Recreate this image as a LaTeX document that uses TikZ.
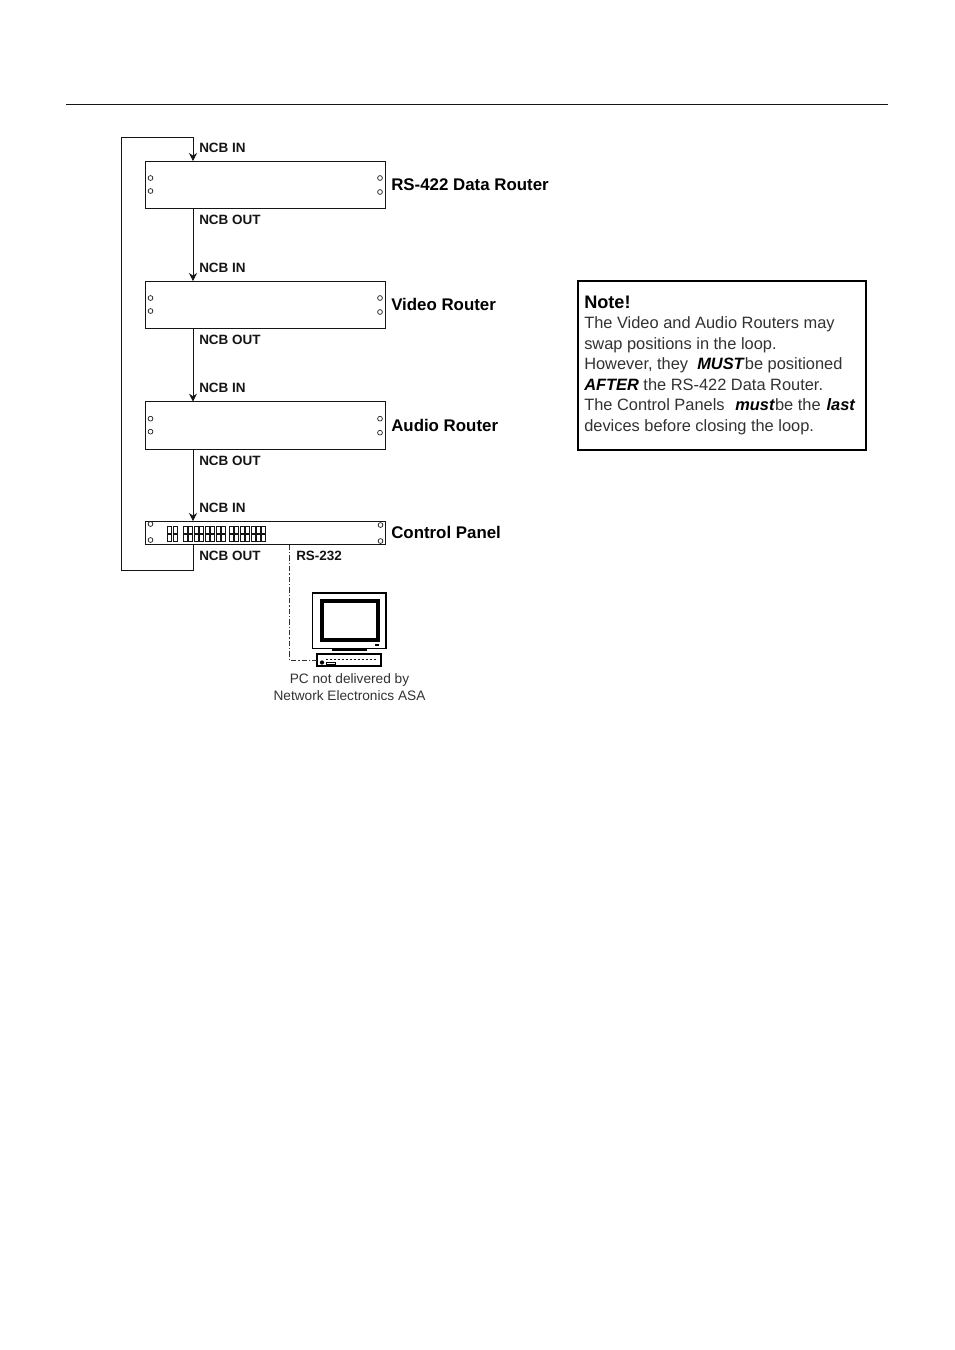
\documentclass[tikz,border=0pt]{standalone}
\usepackage{xcolor}
\usepackage{fontspec}
\setmainfont{Liberation Sans}
\usetikzlibrary{arrows.meta, positioning}
\definecolor{mydark}{RGB}{20,20,20}
\definecolor{mygrey}{RGB}{50,50,50}
\newcommand{\strongword}[1]{\textcolor{black}{\textbf{\textit{#1}}}}
\tikzset{
  rackbox/.style={rectangle, draw=mydark, fill=white, minimum width=180pt, minimum height=35.5pt,
    inner sep=0pt, outer sep=0pt, line width=0.7pt},
  panelbox/.style={rackbox, minimum height=17.7pt},
  hole/.style={circle, draw=mydark, fill=white, minimum size=3.6pt, inner sep=0pt, line width=0.5pt},
  padkey/.style={rectangle, draw=mydark, fill=white, minimum width=3.2pt, minimum height=5pt,
    inner sep=0pt, line width=0.5pt},
  ncblabel/.style={anchor=west, inner sep=0pt, font=\fontsize{10.1}{12}\selectfont\bfseries, color=mydark},
  unitlabel/.style={anchor=west, inner sep=0pt, font=\fontsize{12.65}{14}\selectfont\bfseries, color=black},
  caption/.style={align=center, inner sep=0pt, font=\fontsize{10.25}{12.6}\selectfont, color=mygrey},
  notebox/.style={rectangle, draw=black, fill=white, minimum width=216pt, minimum height=126.75pt,
    inner sep=0pt, outer sep=0pt, line width=1.5pt},
  notetext/.style={align=left, inner sep=0pt, font=\fontsize{12.3}{15.4}\selectfont, color=mygrey},
  arrow/.style={-{Stealth[length=6pt, width=6pt]}, line width=0.7pt, color=mydark},
  line/.style={line width=0.7pt, color=mydark},
  rsline/.style={line width=0.6pt, color=mygrey, dash pattern=on 4pt off 1.5pt on 1pt off 1.5pt}
}
\begin{document}
\begin{tikzpicture}[x=0.75pt, y=-0.75pt]
  \useasboundingbox (0,0) rectangle (954,1350);
  \coordinate (ruleL) at (66,104.5);
  \coordinate (ruleR) at (888,104.5);
  \draw[line] (ruleL) -- (ruleR);

  % the four units
  \node[rackbox, anchor=north west] (datarouter) at (145,161) {};
  \node[rackbox, below=54.5pt of datarouter] (videorouter) {};
  \node[rackbox, below=55pt of videorouter] (audiorouter) {};
  \node[panelbox, below=54pt of audiorouter] (ctrlpanel) {};

  \foreach \u in {datarouter, videorouter, audiorouter} {
    \node[hole] at ([shift={(5.5,17)}]\u.north west) {};
    \node[hole] at ([shift={(5.5,30)}]\u.north west) {};
    \node[hole] at ([shift={(-5,17)}]\u.north east) {};
    \node[hole] at ([shift={(-5,31)}]\u.north east) {};
  }
  \node[hole] at ([shift={(5.5,3)}]ctrlpanel.north west) {};
  \node[hole] at ([shift={(5.5,19)}]ctrlpanel.north west) {};
  \node[hole] at ([shift={(-4.5,4)}]ctrlpanel.north east) {};
  \node[hole] at ([shift={(-4.5,20)}]ctrlpanel.north east) {};

  % panel keys
  \foreach \kx in {169.5,175, 185,190.5,196,201.5,207,212.5,218,223, 231,236.5,242,247.5,253,258.5,263.5} {
    \node[padkey] at (\kx,529.5) {};
    \node[padkey] at (\kx,538) {};
  }

  % bus and loop
  \coordinate (busx) at (193,0);
  \coordinate (looptop) at (121,137);
  \coordinate (loopbot) at (121,570);
  \draw[arrow] (datarouter.south -| busx) -- (videorouter.north -| busx);
  \draw[arrow] (videorouter.south -| busx) -- (audiorouter.north -| busx);
  \draw[arrow] (audiorouter.south -| busx) -- (ctrlpanel.north -| busx);
  \draw[arrow] (ctrlpanel.south -| busx) |- (loopbot) -- (looptop) -| (datarouter.north -| busx);

  \node[ncblabel] (in1) at (199,148) {NCB IN};
  \node[ncblabel] (out1) at (199,219.5) {NCB OUT};
  \node[ncblabel] (in2) at (199,268) {NCB IN};
  \node[ncblabel] (out2) at (199,340) {NCB OUT};
  \node[ncblabel] (in3) at (199,388) {NCB IN};
  \node[ncblabel] (out3) at (199,460.5) {NCB OUT};
  \node[ncblabel] (in4) at (199,508) {NCB IN};
  \node[ncblabel] (out4) at (199,556) {NCB OUT};
  \node[ncblabel] (rslabel) at (296,556) {RS-232};

  \node[unitlabel, right=4.5pt of datarouter] (lab1) {RS-422 Data Router};
  \node[unitlabel, right=4.5pt of videorouter] (lab2) {Video Router};
  \node[unitlabel, right=4.5pt of audiorouter] (lab3) {Audio Router};
  \node[unitlabel, right=4.5pt of ctrlpanel] (lab4) {Control Panel};

  % PC
  \node[rectangle, draw=black, fill=white, line width=1pt, minimum width=55pt, minimum height=41.5pt,
    inner sep=0pt, outer sep=0pt, anchor=north west] (monitor) at (312.5,593) {};
  \node[rectangle, draw=black, fill=white, line width=3.2pt, minimum width=42.5pt, minimum height=29.5pt,
    inner sep=0pt, outer sep=0pt] (screen) at (350,620.5) {};
  \node[rectangle, fill=black, minimum width=3pt, minimum height=1.5pt, inner sep=0pt] (led) at (377,645) {};
  \node[rectangle, fill=black, minimum width=26pt, minimum height=1.6pt, inner sep=0pt] (neck) at (349.5,650) {};
  \node[rectangle, fill=black, minimum width=34pt, minimum height=1.6pt, inner sep=0pt, below=0.8pt of neck] (foot) {};
  \node[rectangle, draw=black, fill=white, line width=1pt, minimum width=48pt, minimum height=9pt,
    inner sep=0pt, outer sep=0pt, anchor=north west] (pcbase) at (317,654) {};
  \draw[line width=0.6pt, color=mydark, dash pattern=on 1.5pt off 1.5pt] (326,659) -- (378,659);
  \node[circle, fill=black, minimum size=3.2pt, inner sep=0pt] (pcknob) at (322,662.5) {};
  \node[rectangle, draw=black, minimum width=7pt, minimum height=1.5pt, inner sep=0pt, line width=0.4pt] (pcslot) at (331,663) {};

  \coordinate (rsx) at (289,0);
  \draw[rsline] (ctrlpanel.south -| rsx) |- (pcbase.west);

  \node[caption] (pccap) at (349.5,687) {PC not delivered by\\Network Electronics ASA};

  % note
  \node[notebox, anchor=north west] (note) at (578,281) {};
  \node[notetext, anchor=north west] (notebody) at (584,295.5) {\textcolor{black}{\fontsize{13.6}{15.4}\selectfont\textbf{Note!}}\\
    The Video and Audio Routers may\\
    swap positions in the loop.\\
    However, they\ \ \strongword{MUST}be positioned\\
    \strongword{AFTER} the RS-422 Data Router.\\
    The Control Panels\hspace{8pt}\strongword{must}be the\hspace{4.5pt}\strongword{last}\\
    devices before closing the loop.};
\end{tikzpicture}
\end{document}
